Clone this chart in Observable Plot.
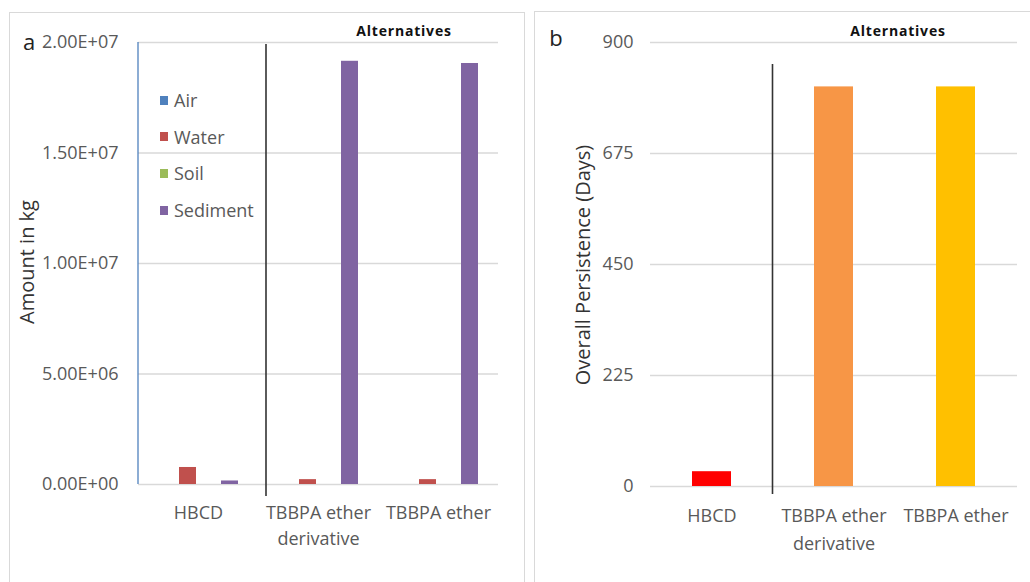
<!DOCTYPE html>
<html><head><meta charset="utf-8">
<script src="https://cdn.jsdelivr.net/npm/d3@7"></script>
<script src="https://cdn.jsdelivr.net/npm/@observablehq/plot@0.6"></script>
<style>
html,body{margin:0;padding:0;background:#fff;}
body{width:1030px;height:582px;overflow:hidden;position:relative;font-family:"Open Sans",sans-serif;}
.box{position:absolute;border:1px solid #d9d9d9;box-sizing:border-box;}
.abs{position:absolute;white-space:nowrap;line-height:1;}
.ctr{transform:translate(-50%,-50%);}
.rot{transform:translate(-50%,-50%) rotate(-90deg);}
svg{position:absolute;overflow:visible;}
</style></head><body>
<script>
// ---- data ----
const categories = ["HBCD", "TBBPA ether derivative", "TBBPA ether"];
const categoryLabels = ["HBCD", "TBBPA ether\nderivative", "TBBPA ether"];
const compartments = ["Air", "Water", "Soil", "Sediment"];
const compartmentColors = ["#4F81BD", "#C0504D", "#9BBB59", "#8064A2"];
const airKg = [0, 0, 0];
const waterKg = [7.7e5, 2.2e5, 2.2e5];
const soilKg = [0, 0, 0];
const sedimentKg = [1.6e5, 1.915e7, 1.905e7];
const amountTicks = [0, 5e6, 1e7, 1.5e7, 2e7];
const amountTickLabels = ["0.00E+00", "5.00E+06", "1.00E+07", "1.50E+07", "2.00E+07"];
const persistenceDays = [30, 810, 810];
const persistenceColors = ["#FF0000", "#F79646", "#FFC000"];
const persistenceTicks = [0, 225, 450, 675, 900];
const persistenceTickLabels = ["0", "225", "450", "675", "900"];

const body = document.body;
function addDiv(cls, css, text) {
  const d = document.createElement("div");
  d.className = cls;
  Object.assign(d.style, css);
  if (text != null) d.textContent = text;
  body.appendChild(d);
  return d;
}

// panel boxes
addDiv("box", {left: "9px", top: "12px", width: "516px", height: "590px"});
addDiv("box", {left: "534px", top: "11px", width: "520px", height: "590px"});

// ---- panel a ----
const amountSeries = [airKg, waterKg, soilKg, sedimentKg];
const amountRows = [];
categories.forEach((c, i) => {
  compartments.forEach((s, j) => amountRows.push({category: c, compartment: s, value: amountSeries[j][i]}));
});

const chartA = Plot.plot({
  width: 515, height: 570,
  marginLeft: 128, marginRight: 26, marginTop: 30, marginBottom: 98,
  style: {background: "transparent", fontFamily: "Open Sans", fontSize: "18px", color: "#595959", overflow: "visible"},
  fx: {domain: categories, padding: 0, axis: null},
  x: {domain: compartments, paddingInner: 0.21, paddingOuter: 0.9, axis: null},
  y: {domain: [0, 2e7], ticks: amountTicks, tickFormat: d => amountTickLabels[amountTicks.indexOf(d)], tickSize: 0, tickPadding: 20, label: null},
  color: {domain: compartments, range: compartmentColors},
  marks: [
    Plot.ruleY(amountTicks, {stroke: "#d9d9d9", strokeWidth: 1.3}),
    Plot.barY(amountRows, {fx: "category", x: "compartment", y: "value", fill: "compartment"}),
    Plot.text(categories, {fx: d => d, text: (d, i) => categoryLabels[i], frameAnchor: "bottom", dy: 16, lineAnchor: "top", lineHeight: 1.45, fill: "#595959", fontSize: 18})
  ]
});
chartA.style.left = "9px"; chartA.style.top = "12px";
body.appendChild(chartA);
{
  const fx = chartA.scale("fx"), y = chartA.scale("y");
  const svg = d3.select(chartA);
  const x0 = fx.apply(categories[0]);
  svg.append("line").attr("x1", x0).attr("x2", x0).attr("y1", y.apply(2e7)).attr("y2", y.apply(0))
    .attr("stroke", "#4F81BD").attr("stroke-width", 1.3);
  const xd = fx.apply(categories[1]) + 8;
  svg.append("line").attr("x1", xd).attr("x2", xd).attr("y1", y.apply(2e7) + 2).attr("y2", y.apply(0) + 12)
    .attr("stroke", "#333").attr("stroke-width", 1.6);
}

// legend (panel a)
compartments.forEach((s, i) => {
  const cy = 100 + i * 36.7;
  addDiv("abs", {left: "160px", top: (cy - 4.5) + "px", width: "8px", height: "9px", background: compartmentColors[i]});
  addDiv("abs", {left: "174px", top: (cy - 10) + "px", fontSize: "18px", lineHeight: "20px", color: "#595959"}, s);
});

addDiv("abs ctr", {left: "29px", top: "41px", fontSize: "22px", color: "#222"}, "a");
addDiv("abs ctr", {left: "404px", top: "31px", fontSize: "14px", fontWeight: "bold", letterSpacing: "0.8px", color: "#111"}, "Alternatives");
addDiv("abs rot", {left: "27px", top: "262px", fontSize: "20px", color: "#333"}, "Amount in kg");

// ---- panel b ----
const chartB = Plot.plot({
  width: 496, height: 570,
  marginLeft: 116, marginRight: 13, marginTop: 30, marginBottom: 96,
  style: {background: "transparent", fontFamily: "Open Sans", fontSize: "18px", color: "#595959", overflow: "visible"},
  x: {domain: categories, paddingInner: 0.684, paddingOuter: 0.342, axis: null},
  y: {domain: [0, 900], ticks: persistenceTicks, tickFormat: d => persistenceTickLabels[persistenceTicks.indexOf(d)], tickSize: 0, tickPadding: 17, label: null},
  color: {domain: categories, range: persistenceColors},
  marks: [
    Plot.ruleY(persistenceTicks, {stroke: "#d9d9d9", strokeWidth: 1.3}),
    Plot.barY(categories, {x: d => d, y: (d, i) => persistenceDays[i], fill: d => d}),
    Plot.text(categories, {x: d => d, text: (d, i) => categoryLabels[i], frameAnchor: "bottom", dy: 16, lineAnchor: "top", lineHeight: 1.55, fill: "#595959", fontSize: 18})
  ]
});
chartB.style.left = "534px"; chartB.style.top = "12px";
body.appendChild(chartB);
{
  const x = chartB.scale("x"), y = chartB.scale("y");
  const svg = d3.select(chartB);
  const xd = (x.apply(categories[0]) + x.bandwidth + x.apply(categories[1])) / 2;
  svg.append("line").attr("x1", xd).attr("x2", xd).attr("y1", y.apply(900) + 22).attr("y2", y.apply(0) + 8)
    .attr("stroke", "#333").attr("stroke-width", 1.6);
}
addDiv("abs ctr", {left: "556px", top: "37px", fontSize: "22px", color: "#222"}, "b");
addDiv("abs ctr", {left: "898px", top: "31px", fontSize: "14px", fontWeight: "bold", letterSpacing: "0.8px", color: "#111"}, "Alternatives");
addDiv("abs rot", {left: "583px", top: "265px", fontSize: "20px", color: "#333"}, "Overall Persistence (Days)");
</script>
</body></html>
